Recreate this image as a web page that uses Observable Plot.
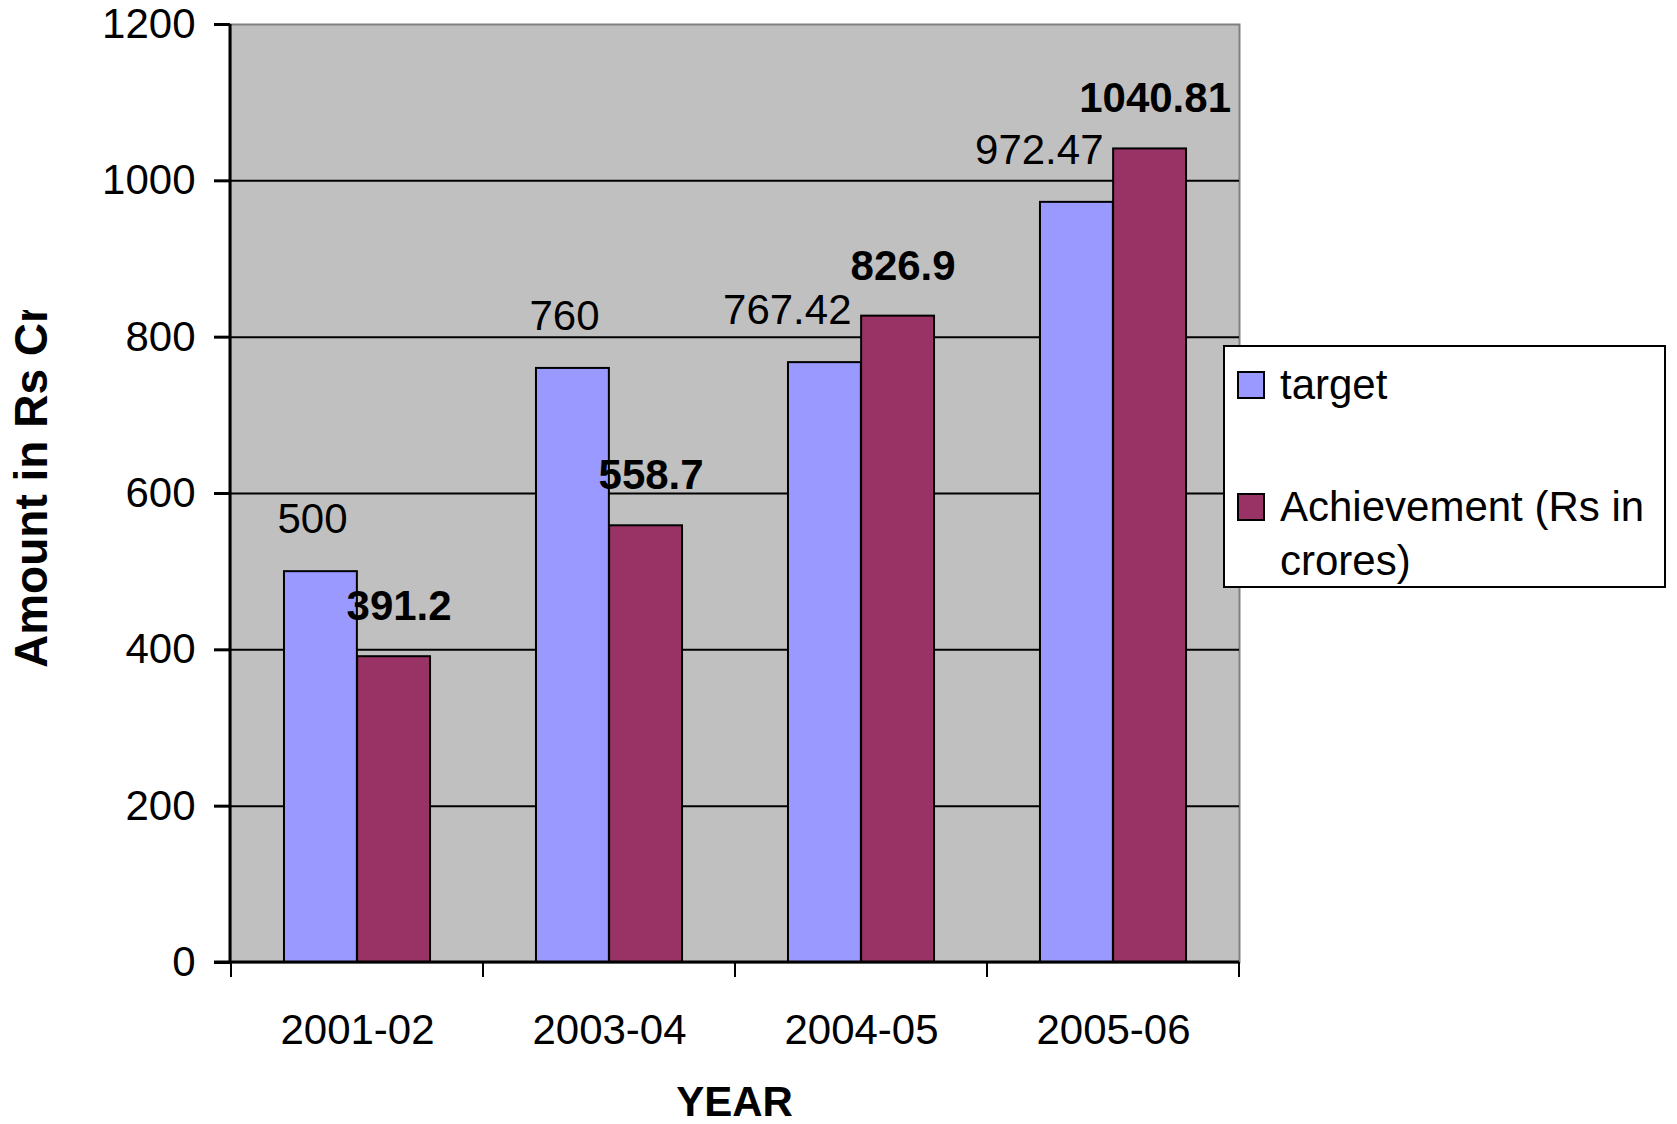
<!DOCTYPE html>
<html><head><meta charset="utf-8">
<script src="https://cdn.jsdelivr.net/npm/d3@7"></script>
<script src="https://cdn.jsdelivr.net/npm/@observablehq/plot@0.6"></script>
<style>
body{margin:0;background:#fff;font-family:"Liberation Sans",Arial,sans-serif;color:#000;}
#wrap{position:relative;width:1677px;height:1124px;overflow:hidden;background:#fff;}
#wrap svg{position:absolute;left:0;top:0;}
g[aria-label^="y-axis"] path, g[aria-label^="y-axis"] line{stroke-width:3px;}
.ytitle{position:absolute;left:3px;top:668px;width:358px;height:56px;line-height:56px;transform-origin:0 0;transform:rotate(-90deg);white-space:nowrap;overflow:hidden;font-weight:bold;font-size:46px;}
.xtitle{position:absolute;left:230px;width:1009px;top:1080px;line-height:44px;text-align:center;font-weight:bold;font-size:42px;}
.legend{position:absolute;left:1223px;top:345px;width:443px;height:243px;box-sizing:border-box;border:2px solid #000;background:#fff;}
.sw{position:absolute;left:12px;width:28px;height:28px;box-sizing:border-box;border:2px solid #000;}
.lt{position:absolute;left:55px;font-size:42px;line-height:54px;white-space:nowrap;}
</style></head><body><div id="wrap"></div><script>
const years = ["2001-02", "2003-04", "2004-05", "2005-06"];
const target = [500, 760, 767.42, 972.47];
const achievement = [391.2, 558.7, 826.9, 1040.81];
const yTicks = [0, 200, 400, 600, 800, 1000, 1200];
const seriesNames = ["target", "Achievement (Rs in crores)"];
const seriesColors = ["#9999FF", "#993366"];

const tRows = years.map((year, i) => ({year, series: seriesNames[0], value: target[i]}));
const aRows = years.map((year, i) => ({year, series: seriesNames[1], value: achievement[i]}));

const W = 1677, H = 1124, mL = 230, mR = 438, mT = 24, mB = 162;
const bw = (W - mL - mR) / years.length;
const outer = bw * 0.21, barW = bw * 0.29;

function axisLines(index, scales, values, dimensions) {
  const {width, height, marginLeft, marginRight, marginTop, marginBottom} = dimensions;
  const x0 = marginLeft, x1 = width - marginRight, y0 = height - marginBottom;
  const xs = scales.x;
  const step = xs && xs.bandwidth ? xs.bandwidth() : (x1 - x0) / years.length;
  const bounds = years.map((y, i) => (xs ? xs(y) : x0 + i * step));
  bounds.push(bounds[bounds.length - 1] + step);
  const g = d3.create("svg:g").attr("stroke", "#000").attr("fill", "none");
  g.append("line").attr("x1", x0).attr("x2", x0).attr("y1", marginTop).attr("y2", y0).attr("stroke-width", 3);
  g.append("line").attr("x1", x0 - 16).attr("x2", x1).attr("y1", scales.y(0)).attr("y2", scales.y(0)).attr("stroke-width", 3);
  for (const b of bounds) {
    g.append("line").attr("x1", b).attr("x2", b).attr("y1", y0).attr("y2", y0 + 15).attr("stroke-width", 2);
  }
  return g.node();
}

const plot = Plot.plot({
  width: W, height: H,
  marginLeft: mL, marginRight: mR, marginTop: mT, marginBottom: mB,
  style: {fontFamily: "Liberation Sans, Arial, sans-serif", fontSize: "42px", color: "#000", background: "transparent", overflow: "visible"},
  x: {domain: years, padding: 0, tickSize: 0, tickPadding: 52, label: null},
  y: {domain: [0, 1200], ticks: yTicks, tickSize: 16, tickPadding: 19, tickFormat: d => String(d), label: null},
  marks: [
    Plot.frame({fill: "#C0C0C0", stroke: "#808080", strokeWidth: 2}),
    Plot.ruleY(yTicks.filter(t => t > 0 && t < 1200), {stroke: "#000", strokeWidth: 2}),
    Plot.barY(tRows, {x: "year", y: "value", fill: seriesColors[0], stroke: "#000", strokeWidth: 2, insetLeft: outer, insetRight: bw - outer - barW}),
    Plot.barY(aRows, {x: "year", y: "value", fill: seriesColors[1], stroke: "#000", strokeWidth: 2, insetLeft: outer + barW, insetRight: bw - outer - 2 * barW}),
    Plot.text(tRows, {x: "year", y: "value", text: d => String(d.value), textAnchor: "end", dx: -(bw / 2 - outer - barW) - 10, dy: -52, fill: "#000"}),
    Plot.text(aRows, {x: "year", y: "value", text: d => String(d.value), dx: (bw / 2 - outer - barW / 2) + 5, dy: -50, fill: "#000", fontWeight: "bold"}),
    axisLines
  ]
});

const wrap = document.getElementById("wrap");
wrap.appendChild(plot);

const yt = document.createElement("div");
yt.className = "ytitle";
yt.textContent = "Amount in Rs Crores";
wrap.appendChild(yt);

const xt = document.createElement("div");
xt.className = "xtitle";
xt.textContent = "YEAR";
wrap.appendChild(xt);

const lg = document.createElement("div");
lg.className = "legend";
lg.innerHTML =
  `<div class="sw" style="top:24px;background:${seriesColors[0]}"></div>` +
  `<div class="lt" style="top:11px">${seriesNames[0]}</div>` +
  `<div class="sw" style="top:146px;background:${seriesColors[1]}"></div>` +
  `<div class="lt" style="top:133px">Achievement (Rs in<br>crores)</div>`;
wrap.appendChild(lg);
</script></body></html>
